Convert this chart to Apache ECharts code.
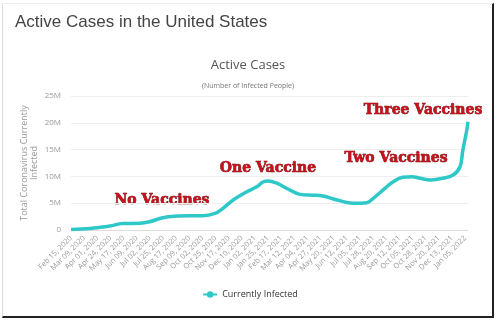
<!DOCTYPE html>
<html>
<head>
<meta charset="utf-8">
<script src="https://cdn.jsdelivr.net/npm/echarts@6/dist/echarts.min.js"></script>
<style>
  html, body {margin: 0; padding: 0; background: #fff;}
  #frame {position: absolute; left: 2px; top: 3px; width: 489px; height: 312px;
    border-left: 1px solid #ddd; border-top: 1px solid #eee;
    border-right: 2px solid #222; border-bottom: 2px solid #222;}
  #chart {position: absolute; left: 0; top: 0; width: 500px; height: 325px;}
</style>
</head>
<body>
<div id="frame"></div>
<div id="chart"></div>
<script>
// tick labels, one every 23 days starting Feb 15, 2020
const tickLabels = [
  "Feb 15, 2020", "Mar 09, 2020", "Apr 01, 2020", "Apr 24, 2020", "May 17, 2020",
  "Jun 09, 2020", "Jul 02, 2020", "Jul 25, 2020", "Aug 17, 2020", "Sep 09, 2020",
  "Oct 02, 2020", "Oct 25, 2020", "Nov 17, 2020", "Dec 10, 2020", "Jan 02, 2021",
  "Jan 25, 2021", "Feb 17, 2021", "Mar 12, 2021", "Apr 04, 2021", "Apr 27, 2021",
  "May 20, 2021", "Jun 12, 2021", "Jul 05, 2021", "Jul 28, 2021", "Aug 20, 2021",
  "Sep 12, 2021", "Oct 05, 2021", "Oct 28, 2021", "Nov 20, 2021", "Dec 13, 2021",
  "Jan 05, 2022",
];
const tickStep = 23;

// days since Feb 15, 2020
const days = [
  0, 33, 51, 68, 91, 121, 138, 161, 186, 208, 231, 252, 266, 284, 308, 326, 336, 345,
  361, 378, 401, 424, 441, 466, 494, 518, 529, 546, 564, 581, 597, 611, 629, 651,
  669, 681, 686, 693, 695,
];
// active cases, millions
const activeCases = [
  0.1, 0.3, 0.5, 0.75, 1.2, 1.25, 1.55, 2.3, 2.6, 2.67, 2.67, 3.1, 4.05, 5.6, 7.15, 8.1, 8.95, 9.15,
  8.7, 7.75, 6.65, 6.5, 6.35, 5.6, 5.0, 5.1, 5.9, 7.45, 9.0, 9.85, 9.95, 9.65, 9.35, 9.65,
  10.25, 11.8, 14.9, 18.7, 20.2,
];

const yTicks = ["0", "5M", "10M", "15M", "20M", "25M"];

const notes = [
  {text: "No Vaccines", x: 162, y: 200},
  {text: "One Vaccine", x: 268, y: 168},
  {text: "Two Vaccines", x: 396, y: 158},
  {text: "Three Vaccines", x: 423, y: 110},
];

const chart = echarts.init(document.getElementById("chart"));

const option = {
  animation: false,
  title: [
    {text: "Active Cases in the United States", left: 10, top: 9,
      textStyle: {fontFamily: "Liberation Sans", fontSize: 17, fontWeight: "normal", color: "#444"}},
    {text: "Active Cases", left: 243, top: 54, textAlign: "center",
      textStyle: {fontFamily: "Open Sans", fontSize: 13, fontWeight: "normal", color: "#555"}},
    {text: "(Number of Infected People)", left: 243, top: 77, textAlign: "center",
      textStyle: {fontFamily: "Open Sans", fontSize: 7, fontWeight: "normal", color: "#777"}},
  ],
  grid: {left: 71, right: 32, top: 96, bottom: 95},
  legend: {
    bottom: 21, left: "center", itemWidth: 14, itemHeight: 8,
    textStyle: {fontFamily: "Open Sans", fontSize: 9, color: "#333"},
  },
  xAxis: {
    type: "value", min: 0, max: 695, interval: tickStep,
    splitLine: {show: false},
    axisLine: {show: true, lineStyle: {color: "#ddd"}},
    axisTick: {show: false},
    axisLabel: {
      rotate: 45, fontFamily: "Open Sans", fontSize: 7.5, color: "#999", margin: 7, showMaxLabel: false,
      formatter: (v) => (v % tickStep === 0 ? tickLabels[v / tickStep] || "" : ""),
    },
  },
  yAxis: {
    type: "value", min: 0, max: 25, interval: 5,
    name: "Total Coronavirus Currently\nInfected", nameLocation: "middle", nameGap: 32,
    nameMoveOverlap: false,
    nameTextStyle: {fontFamily: "Open Sans", fontSize: 9, color: "#999", lineHeight: 10},
    splitLine: {lineStyle: {color: "#eee"}},
    axisLine: {show: false},
    axisTick: {show: false},
    axisLabel: {fontFamily: "Open Sans", fontSize: 8, color: "#999", margin: 10,
      formatter: (v) => yTicks[v / 5]},
  },
  series: [{
    name: "Currently Infected",
    type: "line",
    smooth: 0.4,
    showSymbol: false,
    symbol: "circle",
    color: "#2ec8c8",
    lineStyle: {width: 3.5, color: "#2ec8c8"},
    data: days.map((d, i) => [d, activeCases[i]]),
  }],
  graphic: notes.map((n) => ({
    type: "text", x: n.x, y: n.y,
    style: {
      text: n.text, align: "center", verticalAlign: "middle",
      font: "bold 14px 'DejaVu Serif'", fill: "#c8101a",
      stroke: "#5a0000", lineWidth: 0.6,
    },
  })),
};

chart.setOption(option);
</script>
</body>
</html>
